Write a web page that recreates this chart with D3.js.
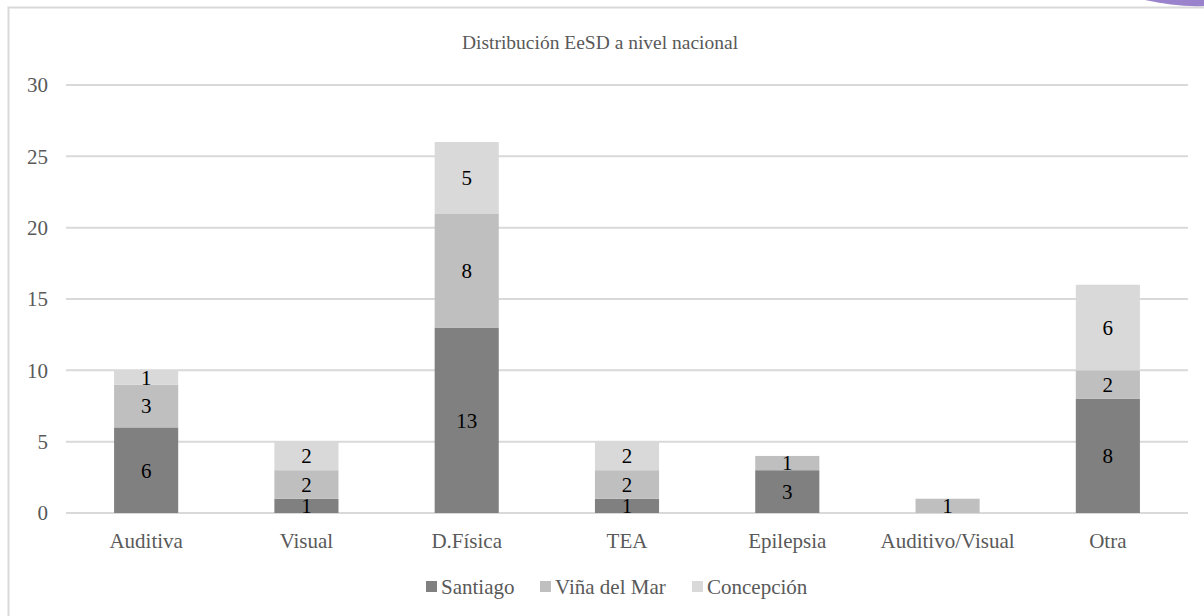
<!DOCTYPE html>
<html>
<head>
<meta charset="utf-8">
<script src="https://cdn.jsdelivr.net/npm/d3@7"></script>
<style>
  body { margin: 0; background: #fff; }
  svg { display: block; }
  svg text { font-family: 'Liberation Serif', 'Times New Roman', Times, 'DejaVu Serif', serif; }
</style>
</head>
<body>
<svg id="chart"></svg>
<script>
// chart data
var categories = ["Auditiva", "Visual", "D.Física", "TEA", "Epilepsia", "Auditivo/Visual", "Otra"];
var seriesNames = ["Santiago", "Viña del Mar", "Concepción"];
var santiago = [6, 1, 13, 1, 3, 0, 8];
var vina = [3, 2, 8, 2, 1, 1, 2];
var concepcion = [1, 2, 5, 2, 0, 0, 6];
var yTicks = [0, 5, 10, 15, 20, 25, 30];
var title = "Distribución EeSD a nivel nacional";

var colors = ["#808080", "#bfbfbf", "#d9d9d9"];

var width = 1204, height = 616;
var margin = {left: 66, right: 16, top: 85, bottom: 103};

var svg = d3.select("#chart").attr("width", width).attr("height", height);

// outer frame of the chart area (right/bottom edges fall off the picture)
svg.append("rect")
  .attr("x", 8.5).attr("y", 7.5)
  .attr("width", 1210).attr("height", 620)
  .attr("fill", "#fff")
  .attr("stroke", "#d9d9d9")
  .attr("stroke-width", 2);

// purple swoosh in the top right corner
svg.append("path")
  .attr("d", "M1145,0 C1165,4 1185,7 1204,6 L1204,0 Z")
  .attr("fill", "#9a83cc");

// build stacked table
var table = categories.map(function(c, i) {
  return {cat: c, "Santiago": santiago[i], "Viña del Mar": vina[i], "Concepción": concepcion[i]};
});
var stack = d3.stack().keys(seriesNames)(table);

var x = d3.scaleBand()
  .domain(categories)
  .range([margin.left, width - margin.right])
  .paddingInner(0.6)
  .paddingOuter(0.3);

var y = d3.scaleLinear()
  .domain([0, 30])
  .range([height - margin.bottom, margin.top]);

var font = "'Liberation Serif', 'Times New Roman', Times, serif";

// gridlines
svg.append("g")
  .selectAll("line")
  .data(yTicks)
  .enter().append("line")
    .attr("x1", margin.left)
    .attr("x2", width - margin.right)
    .attr("y1", function(d) { return y(d); })
    .attr("y2", function(d) { return y(d); })
    .attr("stroke", "#d9d9d9")
    .attr("stroke-width", 2);

// y tick labels
svg.append("g")
  .selectAll("text")
  .data(yTicks)
  .enter().append("text")
    .attr("x", 48)
    .attr("y", function(d) { return y(d); })
    .attr("dy", "0.35em")
    .attr("text-anchor", "end")
    .attr("fill", "#595959")
    .attr("font-family", font)
    .style("font-size", "21px")
    .text(function(d) { return d; });

// bars
var layers = svg.append("g")
  .selectAll("g")
  .data(stack)
  .enter().append("g")
    .attr("fill", function(d, i) { return colors[i]; });

layers.selectAll("rect")
  .data(function(d) { return d; })
  .enter().append("rect")
    .attr("x", function(d) { return x(d.data.cat); })
    .attr("width", x.bandwidth())
    .attr("y", function(d) { return y(d[1]); })
    .attr("height", function(d) { return y(d[0]) - y(d[1]); });

// data labels
layers.selectAll("text")
  .data(function(d) { return d.filter(function(s) { return s[1] - s[0] > 0; }); })
  .enter().append("text")
    .attr("x", function(d) { return x(d.data.cat) + x.bandwidth() / 2; })
    .attr("y", function(d) { return (y(d[0]) + y(d[1])) / 2; })
    .attr("dy", "0.35em")
    .attr("text-anchor", "middle")
    .attr("fill", "#000")
    .attr("font-family", font)
    .style("font-size", "21px")
    .text(function(d) { return d[1] - d[0]; });

// category labels
svg.append("g")
  .selectAll("text")
  .data(categories)
  .enter().append("text")
    .attr("x", function(d) { return x(d) + x.bandwidth() / 2; })
    .attr("y", 541)
    .attr("dy", "0.35em")
    .attr("text-anchor", "middle")
    .attr("fill", "#595959")
    .attr("font-family", font)
    .style("font-size", "21px")
    .text(function(d) { return d; });

// title
svg.append("text")
  .attr("x", 600)
  .attr("y", 42)
  .attr("dy", "0.35em")
  .attr("text-anchor", "middle")
  .attr("fill", "#595959")
  .attr("font-family", font)
  .style("font-size", "19.5px")
  .text(title);

// legend
var legendX = [426, 540, 692];
var legend = svg.append("g")
  .selectAll("g")
  .data(seriesNames)
  .enter().append("g")
    .attr("transform", function(d, i) { return "translate(" + legendX[i] + ",587)"; });

legend.append("rect")
  .attr("x", 0).attr("y", -6)
  .attr("width", 11).attr("height", 11)
  .attr("fill", function(d, i) { return colors[i]; });

legend.append("text")
  .attr("x", 15)
  .attr("dy", "0.35em")
  .attr("fill", "#595959")
  .attr("font-family", font)
  .style("font-size", "21px")
  .text(function(d) { return d; });
</script>
</body>
</html>
